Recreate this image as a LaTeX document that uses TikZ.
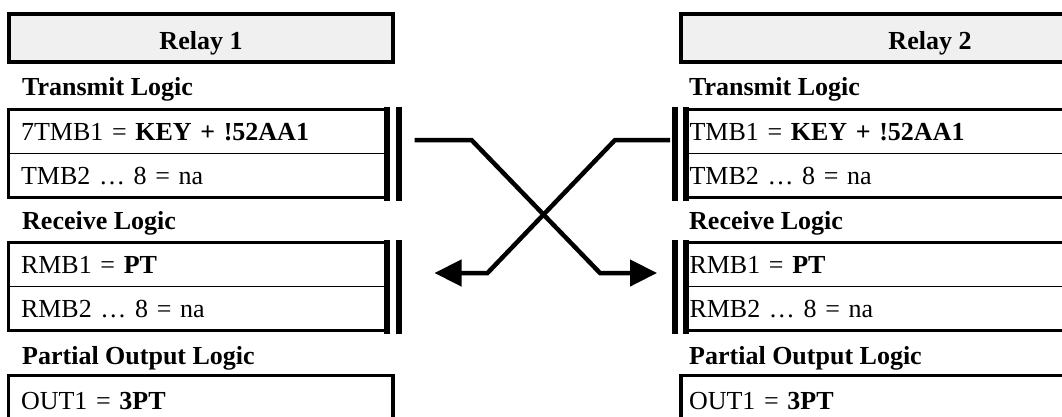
\documentclass[tikz,border=0pt]{standalone}
\usepackage{fontspec}
\setmainfont{Liberation Serif}
\usepackage{tikz}
\usetikzlibrary{arrows.meta, positioning, fit}
\definecolor{hdrgray}{RGB}{240,240,240}
\newcommand{\relayfont}{\fontsize{26pt}{31pt}\selectfont}
\tikzset{
  relayhead/.style={rectangle, draw=black, fill=hdrgray, line width=4pt,
    minimum width=384pt, minimum height=48pt, inner sep=0pt,
    font=\relayfont\bfseries, text height=23pt, text depth=0pt},
  cell/.style={rectangle, inner ysep=0pt, outer sep=0pt, minimum height=44pt,
    text height=17pt, text depth=0pt, align=left, font=\relayfont},
  leftcell/.style={cell, text width=353pt, inner xsep=12.5pt},
  rightcell/.style={cell, text width=485pt, inner xsep=3.5pt},
  tablebox/.style={rectangle, draw=black, line width=3.5pt, inner sep=0pt, outer sep=0pt},
  dblbar/.style={draw=black, line width=6pt, line cap=rect},
  divider/.style={black, line width=1.5pt},
  section/.style={anchor=base west, font=\relayfont\bfseries, inner sep=0pt},
  link/.style={-{Triangle[length=27pt, width=26pt]}, line width=4.5pt, color=black}
}

\begin{document}
\begin{tikzpicture}[x=1pt, y=-1pt, node distance=0pt,
  outcell/.style={cell, draw=black, line width=3.5pt, minimum height=50pt}]
  \useasboundingbox (0,0) rectangle (1062,416);

  % Relay 1
  \node[relayhead] (headA) at (201,38) {Relay 1};

  \node[section] (txlabA) at (22,95) {Transmit Logic};
  \node[leftcell, anchor=north west] (tmbA1) at (8.5,109.5) {7TMB1 = \textbf{KEY + !52AA1}};
  \node[leftcell, below=of tmbA1] (tmbA2) {TMB2 … 8 = na};
  \node[tablebox, fit=(tmbA1)(tmbA2)] (txA) {};
  \draw[divider] (tmbA1.south west) -- (tmbA1.south east);
  \draw[dblbar] (txA.north east) -- (txA.south east);
  \draw[dblbar] ([xshift=12pt]txA.north east) -- ([xshift=12pt]txA.south east);

  \node[section] (rxlabA) at (22,229) {Receive Logic};
  \node[leftcell, anchor=north west] (rmbA1) at (8.5,242.5) {RMB1 = \textbf{PT}};
  \node[leftcell, below=of rmbA1] (rmbA2) {RMB2 … 8 = na};
  \node[tablebox, fit=(rmbA1)(rmbA2)] (rxA) {};
  \draw[divider] (rmbA1.south west) -- (rmbA1.south east);
  \draw[dblbar] (rxA.north east) -- (rxA.south east);
  \draw[dblbar] ([xshift=12pt]rxA.north east) -- ([xshift=12pt]rxA.south east);

  \node[section] (outlabA) at (22,364) {Partial Output Logic};
  \node[outcell, text width=359.5pt, inner xsep=12.5pt, anchor=north west] (outA) at (8.5,375.5) {OUT1 = \textbf{3PT}};

  % Relay 2
  \node[relayhead, minimum width=498pt] (headB) at (930,38) {Relay 2};

  \node[section] (txlabB) at (689,95) {Transmit Logic};
  \node[rightcell, anchor=north west] (tmbB1) at (686,109.5) {TMB1 = \textbf{KEY + !52AA1}};
  \node[rightcell, below=of tmbB1] (tmbB2) {TMB2 … 8 = na};
  \node[tablebox, fit=(tmbB1)(tmbB2)] (txB) {};
  \draw[divider] (tmbB1.south west) -- (tmbB1.south east);
  \draw[dblbar] (txB.north west) -- (txB.south west);
  \draw[dblbar] ([xshift=-11.5pt]txB.north west) -- ([xshift=-11.5pt]txB.south west);

  \node[section] (rxlabB) at (689,229) {Receive Logic};
  \node[rightcell, anchor=north west] (rmbB1) at (686,242.5) {RMB1 = \textbf{PT}};
  \node[rightcell, below=of rmbB1] (rmbB2) {RMB2 … 8 = na};
  \node[tablebox, fit=(rmbB1)(rmbB2)] (rxB) {};
  \draw[divider] (rmbB1.south west) -- (rmbB1.south east);
  \draw[dblbar] (rxB.north west) -- (rxB.south west);
  \draw[dblbar] ([xshift=-11.5pt]rxB.north west) -- ([xshift=-11.5pt]rxB.south west);

  \node[section] (outlabB) at (689,364) {Partial Output Logic};
  \node[outcell, text width=482pt, inner xsep=8pt, anchor=north west] (outB) at (681,375.5) {OUT1 = \textbf{3PT}};

  % Crossed mirrored bits
  \draw[link] ([xshift=28pt]tmbA1.base east) -- ++(57,0)
    -- ([xshift=-86pt]rmbB1.base west) -- ([xshift=-29pt]rmbB1.base west);
  \draw[link] ([xshift=-16pt]tmbB1.base west) -- ++(-55,0)
    -- ([xshift=101pt]rmbA1.base east) -- ([xshift=48pt]rmbA1.base east);
\end{tikzpicture}
\end{document}
